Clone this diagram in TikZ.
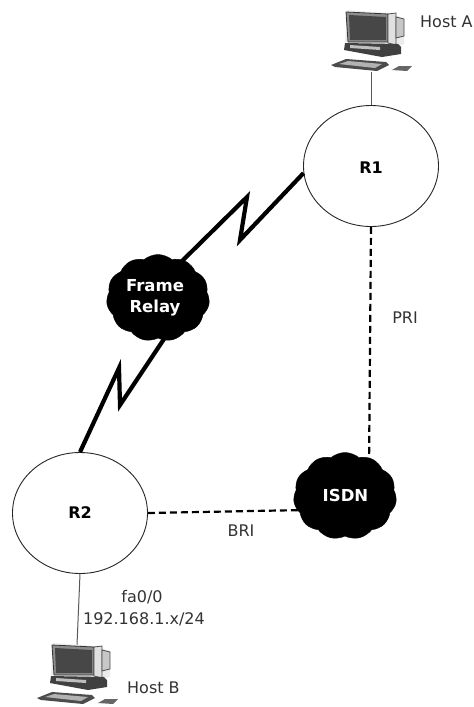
\documentclass[tikz,border=0pt]{standalone}
\usepackage{fontspec}
\setmainfont{DejaVu Sans}
\usetikzlibrary{shapes.geometric,shapes.symbols}
\tikzset{
  x=1pt,y=-1pt,
  lbl/.style={font=\fontsize{16}{18}\selectfont,text=black!80,inner sep=0pt},
  router/.style={draw=black!85,line width=0.9pt,ellipse,minimum width=135pt,minimum height=121pt,inner sep=0pt},
  rname/.style={font=\fontsize{16}{18}\selectfont\bfseries,inner sep=0pt},
  netcloud/.style={cloud,cloud puffs=11,cloud puff arc=80,aspect=1.15,fill=black,draw=black,inner sep=0pt,minimum width=103pt,minimum height=87pt},
  cname/.style={text=white,align=center,inner sep=0pt,font=\fontsize{16.5}{21}\selectfont\bfseries},
  serial/.style={line width=4.2pt,black,line join=miter},
  isdn/.style={line width=2.2pt,black,dash pattern=on 7pt off 4pt},
  lan/.style={line width=1pt,black!65},
  pc/.pic={
    \fill[black!8] (27,10) -- (68,13) -- (84,18) -- (84,44) -- (72,47) -- (25,42) -- cycle;
    \draw[black!80,line width=.8pt,fill=black!45] (26,12) -- (68,14) -- (68,42) -- (28,42) -- cycle;
    \fill[black!72] (29,15) -- (66,17) -- (66,40) -- (30,40) -- cycle;
    \draw[black!70,line width=.8pt,fill=black!12] (68,14) -- (76,13) -- (76,45) -- (68,43) -- cycle;
    \draw[black!70,line width=.8pt,fill=black!22] (76,17) -- (84,19) -- (84,36) -- (76,38) -- cycle;
    \fill[black!75] (25,43) -- (78,44) -- (81,47) -- (81,54) -- (62,57) -- (24,50) -- cycle;
    \fill[black!25] (30,45) -- (60,47) -- (60,50) -- (30,48) -- cycle;
    \fill[black!70] (11,65) -- (26,59) -- (66,62) -- (69,65) -- (57,71) -- (15,67) -- cycle;
    \fill[black!30] (19,64) -- (28,61) -- (62,64) -- (55,68) -- cycle;
    \fill[black!60] (72,70) -- (79,66) -- (92,66) -- (87,71) -- cycle;
  }
}
\begin{document}
\begin{tikzpicture}
\useasboundingbox (0,0) rectangle (474,707);
\node[router] (r1) at (371,166) {};
\node[router] (r2) at (80,513) {};
\node[rname] (r1t) at (371,168) {R1};
\node[rname] (r2t) at (80,513) {R2};
\coordinate (hostA) at (371,72);
\coordinate (hostB) at (77,645);
\coordinate (z1) at (240,240);
\coordinate (z2) at (247,197);
\coordinate (z3) at (120,405);
\coordinate (z4) at (119,368);
\coordinate (fa1) at (175,268);
\coordinate (fb1) at (166,336);
\coordinate (ia) at (369,470);
\coordinate (ib) at (305,510);
\draw[serial] (r1.186) -- (z1) -- (z2) -- (fa1);
\draw[serial] (fb1) -- (z3) -- (z4) -- (r2.north);
\draw[isdn] (r1.south) -- (ia);
\draw[isdn] (r2.east) -- (ib);
\draw[lan] (hostA) -- (r1.north);
\draw[lan] (r2.south) -- (hostB);
\node[netcloud] (fr) at (158,298) {};
\node[netcloud] (is) at (345,496) {};
\node[cname] (frt) at (155,298) {Frame\\Relay};
\node[cname] (ist) at (345.5,495) {ISDN};
\pic at (320,0) {pc};
\pic at (26,633) {pc};
\node[lbl,anchor=west] (la) at (420,22) {Host A};
\node[lbl,anchor=west] (lb) at (127,688) {Host B};
\node[lbl] (pri) at (405,318) {PRI};
\node[lbl] (bri) at (241,531) {BRI};
\node[lbl] (fa) at (142,597) {fa0/0};
\node[lbl] (ip) at (144,619) {192.168.1.x/24};
\end{tikzpicture}
\end{document}
